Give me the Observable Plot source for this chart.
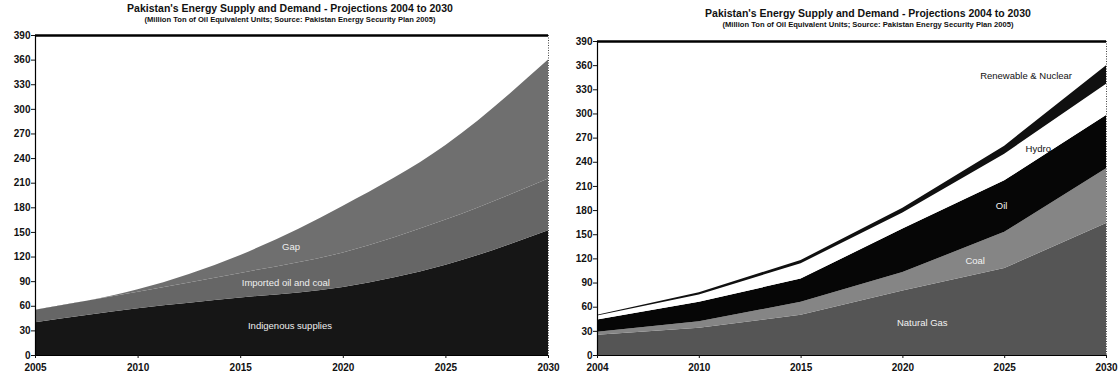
<!DOCTYPE html>
<html><head><meta charset="utf-8">
<script src="https://cdn.jsdelivr.net/npm/d3@7"></script>
<script src="https://cdn.jsdelivr.net/npm/@observablehq/plot@0.6"></script>
<style>
body{margin:0;background:#fff;font-family:"Liberation Sans",Arial,sans-serif;}
#wrap{position:relative;width:1119px;height:377px;overflow:hidden;background:#fff;}
.t{position:absolute;text-align:center;font-weight:bold;color:#111;white-space:nowrap;}
.t1{font-size:10.5px;}
.t2{font-size:7.6px;}
.p{position:absolute;top:25px;}
</style></head><body>
<div id="wrap">
  <div class="t t1" style="left:90px;width:400px;top:2px;">Pakistan's Energy Supply and Demand - Projections 2004 to 2030</div>
  <div class="t t2" style="left:90px;width:400px;top:15px;">(Million Ton of Oil Equivalent Units; Source: Pakistan Energy Security Plan 2005)</div>
  <div class="t t1" style="left:668px;width:400px;top:7px;">Pakistan's Energy Supply and Demand - Projections 2004 to 2030</div>
  <div class="t t2" style="left:668px;width:400px;top:20px;">(Million Ton of Oil Equivalent Units; Source: Pakistan Energy Security Plan 2005)</div>
  <div id="left" class="p" style="left:0px;"></div>
  <div id="right" class="p" style="left:560px;"></div>
</div>
<script>
// ---------- Left chart data ----------
const leftYears = [2005, 2010, 2015, 2020, 2025, 2030];
const leftSeries = ["Indigenous supplies", "Imported oil and coal", "Gap"];
const indigenous = [40, 57, 70, 83, 110, 152];
const imported = [15, 20, 30, 42, 55, 63];
const gap = [0, 3, 22, 57, 91, 145];
const leftColors = ["#161616", "#666666", "#6f6f6f"];
const leftLabels = ["Gap", "Imported oil and coal", "Indigenous supplies"];

// ---------- Right chart data ----------
const rightYears = ["2004", "2010", "2015", "2020", "2025", "2030"];
const rightSeries = ["Natural Gas", "Coal", "Oil", "Hydro", "Renewable & Nuclear"];
const naturalGas = [25, 34, 50, 80, 108, 164];
const coal = [4, 8, 16, 23, 45, 68];
const oil = [15, 24, 29, 54, 64, 66];
const hydro = [5, 9, 19, 20, 33, 39];
const renewableNuclear = [1, 3, 4, 6, 10, 23];
const rightColors = ["#555555", "#858585", "#060606", "#ffffff", "#101010"];
const rightLabels = ["Renewable & Nuclear", "Hydro", "Oil", "Coal", "Natural Gas"];

const yTicks = d3.range(0, 391, 30);
const font = '"Liberation Sans", Arial, sans-serif';

// ---------- Left chart ----------
const leftValues = [indigenous, imported, gap];
const leftRows = [];
leftSeries.forEach((s, k) => leftYears.forEach((yr, i) => leftRows.push({year: yr, series: s, value: leftValues[k][i]})));
const leftAnno = [
  {label: leftLabels[0], x: 2017.45, y: 132},
  {label: leftLabels[1], x: 2017.2, y: 89},
  {label: leftLabels[2], x: 2017.4, y: 36}
];

const leftPlot = Plot.plot({
  width: 560, height: 352,
  marginTop: 10, marginBottom: 22, marginLeft: 35, marginRight: 12,
  style: {fontFamily: font, fontSize: "10px", color: "#111", background: "transparent"},
  x: {type: "linear", domain: [2005, 2030]},
  y: {domain: [0, 390]},
  color: {domain: leftSeries, range: leftColors},
  marks: [
    Plot.areaY(leftRows, {x: "year", y: "value", z: "series", fill: "series", order: leftSeries, curve: "monotone-x"}),
    Plot.ruleY([390], {stroke: "#000", strokeWidth: 2.5}),
    Plot.ruleX([2030], {stroke: "#444", strokeDasharray: "1,1.5"}),
    Plot.ruleX([2005], {stroke: "#000", strokeWidth: 1.2}),
    Plot.ruleY([0], {stroke: "#000", strokeWidth: 1.2}),
    Plot.axisY({ticks: yTicks, tickSize: 4, tickPadding: 1, fontWeight: "bold", fontSize: 10, label: null}),
    Plot.axisX({ticks: leftYears, tickFormat: "d", tickSize: 3, tickPadding: 5, fontWeight: "bold", fontSize: 10, label: null}),
    Plot.text(leftAnno, {x: "x", y: "y", text: "label", fill: "#eeeeee", fontSize: 9.5})
  ]
});
document.getElementById("left").appendChild(leftPlot);

// ---------- Right chart ----------
const rightValues = [naturalGas, coal, oil, hydro, renewableNuclear];
const rightRows = [];
rightSeries.forEach((s, k) => rightYears.forEach((yr, i) => rightRows.push({idx: i, series: s, value: rightValues[k][i]})));
const rightAnno = [
  {label: rightLabels[0], x: 4.21, y: 347, c: "#111"},
  {label: rightLabels[1], x: 4.33, y: 256, c: "#111"},
  {label: rightLabels[2], x: 3.97, y: 186, c: "#f2f2f2"},
  {label: rightLabels[3], x: 3.71, y: 118, c: "#f2f2f2"},
  {label: rightLabels[4], x: 3.19, y: 40, c: "#f2f2f2"}
];

const rightPlot = Plot.plot({
  width: 559, height: 352,
  marginTop: 16, marginBottom: 22, marginLeft: 37, marginRight: 13,
  style: {fontFamily: font, fontSize: "10px", color: "#111", background: "transparent"},
  x: {type: "linear", domain: [0, rightYears.length - 1]},
  y: {domain: [0, 390]},
  color: {domain: rightSeries, range: rightColors},
  marks: [
    Plot.areaY(rightRows, {x: "idx", y: "value", z: "series", fill: "series", order: rightSeries}),
    Plot.ruleY([390], {stroke: "#000", strokeWidth: 2.5}),
    Plot.ruleX([rightYears.length - 1], {stroke: "#444", strokeDasharray: "1,1.5"}),
    Plot.ruleX([0], {stroke: "#000", strokeWidth: 1.2}),
    Plot.ruleY([0], {stroke: "#000", strokeWidth: 1.2}),
    Plot.axisY({ticks: yTicks, tickSize: 4, tickPadding: 1, fontWeight: "bold", fontSize: 10, label: null}),
    Plot.axisX({ticks: d3.range(rightYears.length), tickFormat: i => rightYears[i], tickSize: 3, tickPadding: 5, fontWeight: "bold", fontSize: 10, label: null}),
    Plot.text(rightAnno, {x: "x", y: "y", text: "label", fill: "c", fontSize: 9.5})
  ]
});
document.getElementById("right").appendChild(rightPlot);
</script>
</body></html>
